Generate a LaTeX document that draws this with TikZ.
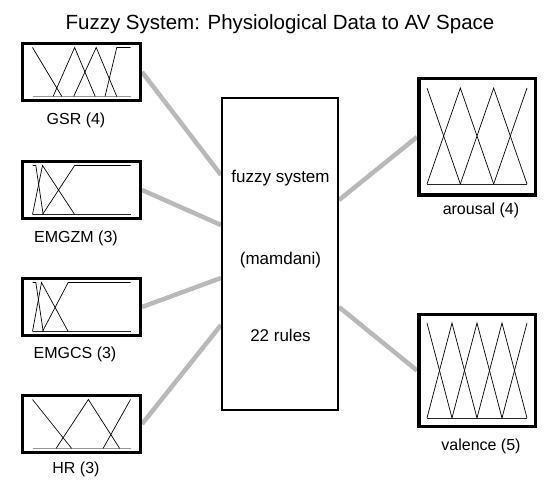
\documentclass[tikz,border=0pt]{standalone}
\usepackage{fontspec}
\setmainfont{Liberation Sans}
\usetikzlibrary{backgrounds}
\definecolor{linegray}{RGB}{185,185,185}
\definecolor{basegray}{RGB}{150,150,150}
\begin{document}
\begin{tikzpicture}[x=1pt,y=1pt,
  conn/.style={line width=4.5pt, draw=linegray},
  smallbox/.style={draw, line width=3pt, fill=white, minimum width=118pt, minimum height=57pt, inner sep=0pt},
  bigbox/.style={draw, line width=3.5pt, fill=white, minimum width=116.5pt, inner sep=0pt},
  sysbox/.style={draw, line width=2pt, fill=white, minimum width=116.3pt, minimum height=312pt, inner sep=0pt},
  lbl/.style={inner sep=0pt, font=\fontsize{16}{19}\selectfont},
  systxt/.style={inner sep=0pt, font=\fontsize{17}{20}\selectfont},
  mf/.style={line width=0.7pt, black},
  basel/.style={line width=0.9pt, basegray},
  baseld/.style={line width=0.9pt, black!85}
]
\useasboundingbox (0,0) rectangle (557,-486);

% title
\node[inner sep=0pt, anchor=base, font=\fontsize{20.5}{24}\selectfont] (title) at (280,-30) {Fuzzy System: Physiological Data to AV Space};

% boxes
\node[smallbox] (gsr) at (81.5,-72) {};
\node[smallbox] (emgzm) at (81.5,-190) {};
\node[smallbox] (emgcs) at (81.5,-307) {};
\node[smallbox] (hr) at (81.5,-424) {};
\node[sysbox] (sys) at (279.85,-254) {};
\node[bigbox, minimum height=116.5pt] (arousal) at (477,-137) {};
\node[bigbox, minimum height=111.5pt] (valence) at (477,-370.5) {};

% labels
\node[lbl] (lgsr) at (76,-120) {GSR (4)};
\node[lbl] (lemgzm) at (76,-238) {EMGZM (3)};
\node[lbl] (lemgcs) at (75,-354) {EMGCS (3)};
\node[lbl] (lhr) at (76,-469) {HR (3)};
\node[lbl] (larousal) at (481,-210) {arousal (4)};
\node[lbl] (lvalence) at (481,-446) {valence (5)};

% system texts
\node[systxt] (t1) at (280.5,-178) {fuzzy system};
\node[systxt] (t2) at (280.5,-260) {(mamdani)};
\node[systxt] (t3) at (280.5,-335) {22 rules};

% connector end points on the system box
\coordinate (c1) at (221,-175);
\coordinate (c2) at (221,-225);
\coordinate (c3) at (221,-278);
\coordinate (c4) at (221,-325);
\coordinate (c5) at (339,-200);
\coordinate (c6) at (339,-307);

\begin{scope}[on background layer]
\draw[conn] (gsr.east) -- (c1);
\draw[conn] (emgzm.east) -- (c2);
\draw[conn] (emgcs.east) -- (c3);
\draw[conn] (hr.east) -- (c4);
\draw[conn] (c5) -- (arousal.west);
\draw[conn] (c6) -- (valence.west);
\end{scope}

% GSR membership functions
\begin{scope}[shift={(32.5,-96.5)}, xscale=98, yscale=49]
\draw[basel] (0,0) -- (1,0);
\draw[mf] (0,1) -- (0.30,0);
\draw[mf] (0.21,0) -- (0.43,1) -- (0.64,0);
\draw[mf] (0.42,0) -- (0.65,1) -- (0.86,0);
\draw[mf] (0.74,0) -- (0.86,1) -- (1,1);
\end{scope}

% EMGZM
\begin{scope}[shift={(32.5,-214.5)}, xscale=98, yscale=49]
\draw[baseld] (0,0) -- (1,0);
\draw[mf] (0,1) -- (0.034,1) -- (0.109,0);
\draw[mf] (0,0) -- (0.102,1) -- (0.43,0);
\draw[mf] (0.102,0) -- (0.43,1) -- (1,1);
\end{scope}

% EMGCS
\begin{scope}[shift={(32.5,-331.5)}, xscale=98, yscale=49]
\draw[baseld] (0,0) -- (1,0);
\draw[mf] (0,1) -- (0.034,1) -- (0.109,0);
\draw[mf] (0,0) -- (0.092,1) -- (0.364,0);
\draw[mf] (0.102,0) -- (0.364,1) -- (1,1);
\end{scope}

% HR
\begin{scope}[shift={(32.5,-448.5)}, xscale=98, yscale=49]
\draw[basel] (0,0) -- (1,0);
\draw[mf] (0,1) -- (0.40,0);
\draw[mf] (0.24,0) -- (0.57,1) -- (0.89,0);
\draw[mf] (0.72,0) -- (1,1);
\end{scope}

% arousal
\begin{scope}[shift={(427,-184)}, xscale=100, yscale=96]
\draw[baseld] (0,0) -- (1,0);
\draw[mf] (0,1) -- (1/3,0);
\draw[mf] (0,0) -- (1/3,1) -- (2/3,0);
\draw[mf] (1/3,0) -- (2/3,1) -- (1,0);
\draw[mf] (2/3,0) -- (1,1);
\end{scope}

% valence
\begin{scope}[shift={(427,-418)}, xscale=100, yscale=95]
\draw[baseld] (0,0) -- (1,0);
\draw[mf] (0,1) -- (0.25,0);
\draw[mf] (0,0) -- (0.25,1) -- (0.5,0);
\draw[mf] (0.25,0) -- (0.5,1) -- (0.75,0);
\draw[mf] (0.5,0) -- (0.75,1) -- (1,0);
\draw[mf] (0.75,0) -- (1,1);
\end{scope}
\end{tikzpicture}
\end{document}
